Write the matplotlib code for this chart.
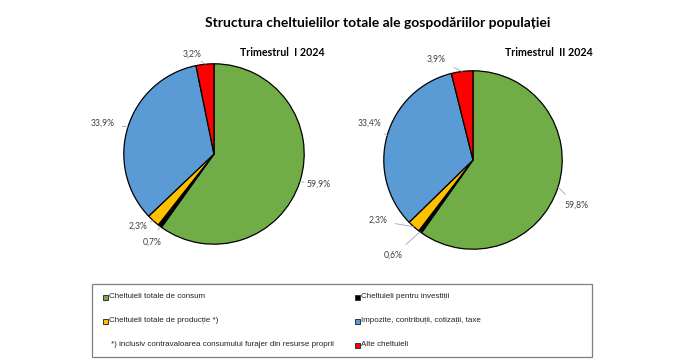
import numpy as np
import matplotlib.pyplot as plt
from matplotlib.patches import Rectangle

# --- date ---
categorii = ['Cheltuieli totale de consum', 'Cheltuieli pentru investiții',
             'Cheltuieli totale de producție *)', 'Impozite, contribuții, cotizații, taxe',
             'Alte cheltuieli']
culori = ['#70AD47', '#000000', '#FFC000', '#5B9BD5', '#FF0000']
trim1 = [59.9, 0.7, 2.3, 33.9, 3.2]
trim2 = [59.8, 0.6, 2.3, 33.4, 3.9]
titluri = ['Trimestrul  I 2024', 'Trimestrul  II 2024']
nota = '*) inclusiv contravaloarea consumului furajer din resurse proprii'

W, H = 700, 360
fig = plt.figure(figsize=(W / 100, H / 100), dpi=100)
fig.patch.set_facecolor('white')


def px_axes(cx, cy, r):
    return fig.add_axes([(cx - r) / W, (H - cy - r) / H, 2 * r / W, 2 * r / H])


# pozitii etichete (coordonate in raze)
poz_etichete = [
    [(1.16, -0.33), (-0.68, -0.98), (-0.84, -0.80), (-1.24, 0.34), (-0.24, 1.11)],
    [(1.16, -0.51), (-0.89, -1.07), (-1.07, -0.68), (-1.16, 0.41), (-0.41, 1.13)],
]
centre = [(214, 154, 92), (473, 160, 91)]
poz_titlu = [(282, 53), (549, 53)]

for k, vals in enumerate([trim1, trim2]):
    cx, cy, r = centre[k]
    ax = px_axes(cx, cy, r)
    wedges, _ = ax.pie(vals, colors=culori, startangle=90, counterclock=False,
                       radius=1, wedgeprops=dict(edgecolor='black', linewidth=0.9))
    ax.set_xlim(-1.02, 1.02)
    ax.set_ylim(-1.02, 1.02)
    ax.set_aspect('equal')
    ax.axis('off')
    for w, v, (lx, ly) in zip(wedges, vals, poz_etichete[k]):
        ang = np.deg2rad((w.theta1 + w.theta2) / 2)
        ex, ey = np.cos(ang), np.sin(ang)
        ax.annotate(f'{v:.1f}%'.replace('.', ','), xy=(ex, ey), xytext=(lx, ly),
                    ha='center', va='center', fontsize=6.2, color='#404040',
                    family='Lato', annotation_clip=False,
                    arrowprops=dict(arrowstyle='-', color='#A6A6A6', lw=0.6,
                                    shrinkA=4, shrinkB=0))
    tx, ty = poz_titlu[k]
    fig.text(tx / W, 1 - ty / H, titluri[k], ha='center', va='center',
             fontsize=7.7, fontweight='bold', family='Lato')

fig.text(378 / W, 1 - 23 / H, 'Structura cheltuielilor totale ale gospodăriilor populației',
         ha='center', va='center', fontsize=10, fontweight='bold', family='Lato')

# --- legenda ---
lax = fig.add_axes([0, 0, 1, 1])
lax.set_xlim(0, W)
lax.set_ylim(H, 0)
lax.axis('off')
lax.add_patch(Rectangle((92, 284), 500, 73, fill=False, edgecolor='#7F7F7F', lw=0.9))

randuri = [297, 321, 345]
pozitii = [(0, 105, randuri[0]), (1, 357, randuri[0]), (2, 105, randuri[1]),
           (3, 357, randuri[1]), (4, 357, randuri[2])]
for i, x, y in pozitii:
    lax.add_patch(Rectangle((x - 2.5, y - 2.5), 5, 5, facecolor=culori[i],
                            edgecolor='#333333', lw=0.7))
    lax.text(x + 4, y, categorii[i], ha='left', va='center', fontsize=5.8,
             color='#222222', family='Liberation Sans')
lax.text(111, randuri[2], nota, ha='left', va='center', fontsize=5.8,
         color='#222222', family='Liberation Sans')

fig.savefig('out.png', dpi=100, facecolor='white')
